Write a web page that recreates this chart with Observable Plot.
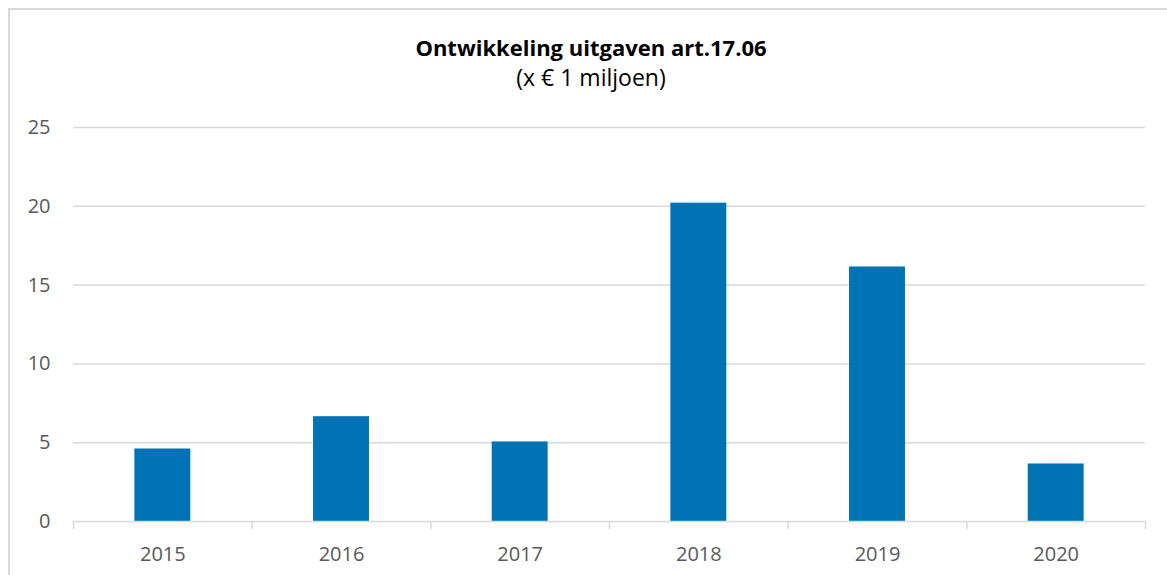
<!DOCTYPE html>
<html>
<head>
<meta charset="utf-8">
<script src="https://cdn.jsdelivr.net/npm/d3@7"></script>
<script src="https://cdn.jsdelivr.net/npm/@observablehq/plot@0.6"></script>
<style>
  html, body { margin: 0; padding: 0; background: #fff; overflow: hidden; width: 1167px; height: 575px; }
  body { position: relative; font-family: "Open Sans", sans-serif; }
  #frame { position: absolute; left: 8px; top: 8px; width: 2000px; height: 2000px;
           border-left: 2px solid #d9d9d9; border-top: 2px solid #d9d9d9; pointer-events: none; z-index: 5; }
  #header { height: 100px; box-sizing: border-box; padding-top: 31.5px; padding-left: 15px; text-align: center; color: #000; }
  #title { font-size: 22px; font-weight: 700; line-height: 30px; white-space: nowrap; }
  #subtitle { font-size: 23px; font-weight: 400; line-height: 30px; margin-top: 0.5px; white-space: nowrap; }
</style>
</head>
<body>
<div id="frame"></div>
<div id="header">
  <div id="title">Ontwikkeling uitgaven art.17.06</div>
  <div id="subtitle">(x € 1 miljoen)</div>
</div>
<div id="chart"></div>
<script>
const years = ["2015", "2016", "2017", "2018", "2019", "2020"];
const spending = [4.6, 6.65, 5.05, 20.2, 16.15, 3.65];
const yTicks = [0, 5, 10, 15, 20, 25];

const data = years.map((year, i) => ({year, value: spending[i]}));

const W = 1167, H = 475, ML = 73, MR = 22, MT = 27, MB = 54;
const step = (W - ML - MR) / years.length;
const grid = "#d9d9d9";
const textColor = "#595959";

const chart = Plot.plot({
  width: W,
  height: H,
  marginLeft: ML,
  marginRight: MR,
  marginTop: MT,
  marginBottom: MB,
  style: {background: "transparent", fontFamily: "'Open Sans', sans-serif", fontSize: "20px", color: textColor},
  x: {domain: years, paddingInner: 0.687, paddingOuter: 0.3435, round: false, label: null},
  y: {domain: [0, 25], label: null},
  marks: [
    Plot.ruleY(yTicks.filter(d => d > 0), {stroke: grid, strokeWidth: 1.5}),
    Plot.barY(data, {x: "year", y: "value", fill: "#0073b5"}),
    Plot.ruleY([0], {stroke: grid, strokeWidth: 1.5}),
    Plot.ruleX(years, {x: d => d, y1: 0, y2: 0, insetBottom: -8, dx: -step / 2, stroke: grid, strokeWidth: 1.5}),
    Plot.ruleX(years.slice(-1), {x: d => d, y1: 0, y2: 0, insetBottom: -8, dx: step / 2, stroke: grid, strokeWidth: 1.5}),
    Plot.axisY({ticks: yTicks, tickSize: 0, tickPadding: 23, fill: textColor, fontSize: 20, label: null}),
    Plot.axisX({tickSize: 0, tickPadding: 25, fill: textColor, fontSize: 20, label: null})
  ]
});
document.getElementById("chart").appendChild(chart);
</script>
</body>
</html>
